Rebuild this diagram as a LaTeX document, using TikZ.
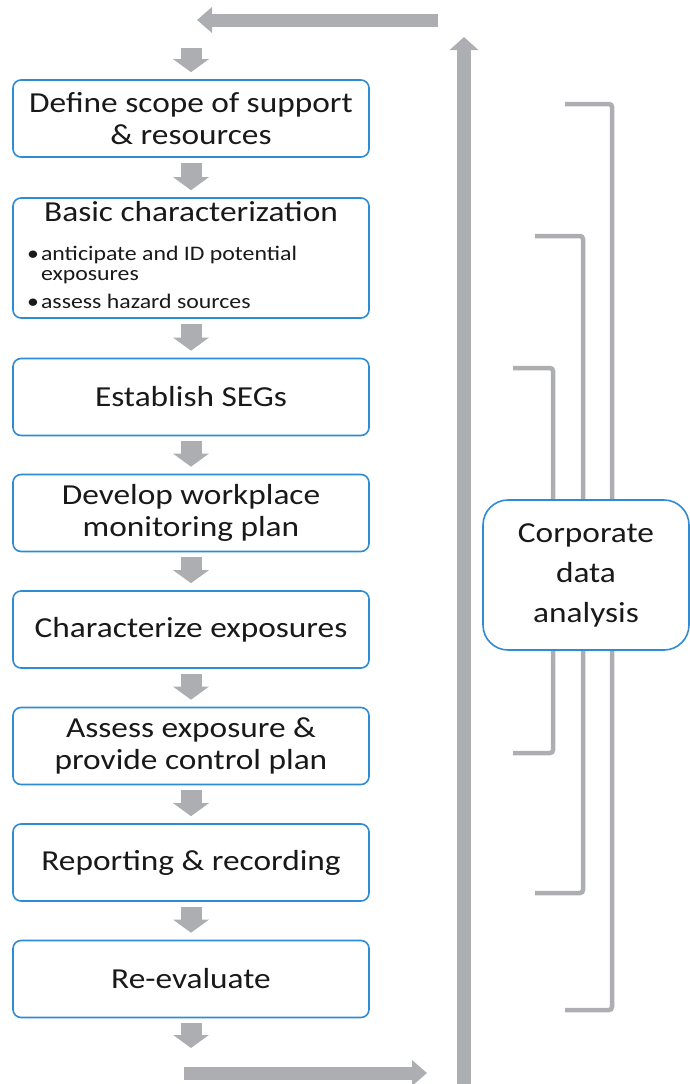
\documentclass[tikz,border=0pt]{standalone}
\usepackage{fontspec}
\setmainfont{Carlito}[FakeStretch=1.15]
\usetikzlibrary{arrows.meta}
\definecolor{stepblue}{RGB}{46,139,212}
\definecolor{flowgray}{RGB}{173,174,177}
\begin{document}
\begin{tikzpicture}[x=1pt,y=-1pt,
    stage/.style={draw=stepblue,line width=1.6pt,rounded corners=8pt,fill=white,minimum width=356pt,minimum height=77pt,inner sep=0pt,align=center,text=black!90,font=\fontsize{29}{32}\selectfont},
    down/.style={draw=flowgray,line width=21pt,-{Triangle[width=35pt,length=13pt]},shorten <=5pt,shorten >=7pt},
    loop/.style={draw=flowgray,line width=13pt,-{Triangle[width=25pt,length=15pt]}},
    bracket/.style={draw=flowgray,line width=4.5pt,rounded corners=3pt}]
  \useasboundingbox (0,0) rectangle (689,1084);
  % process steps
  \node[stage] (box1) at (191,118.5) {Define scope of support\\\& resources};
  \node[stage,minimum height=120pt] (box2) at (191,258) {};
  \node[anchor=base,inner sep=0pt,text=black!90,font=\fontsize{29}{32}\selectfont] (box2title) at (191,221) {Basic characterization};
  \node[anchor=base west,inner sep=0pt,text=black!90,font=\fontsize{20.7}{20}\selectfont] (box2list) at (27,260)
    {\begin{tabular}[t]{@{}l@{\hspace{2pt}}l@{}}\textbullet&anticipate and ID potential\\&exposures\\[8pt]\textbullet&assess hazard sources\end{tabular}};
  \node[stage] (box3) at (191,397) {Establish SEGs};
  \node[stage] (box4) at (191,513) {Develop workplace\\monitoring plan};
  \node[stage] (box5) at (191,629.5) {Characterize exposures};
  \node[stage] (box6) at (191,746) {Assess exposure \&\\provide control plan};
  \node[stage] (box7) at (191,862.5) {Reporting \& recording};
  \node[stage] (box8) at (191,979) {Re-evaluate};
  \coordinate (entry) at (191,43);
  \coordinate (exit) at (191,1055);
  \draw[down] (entry) -- (box1);
  \foreach \a/\b in {box1/box2,box2/box3,box3/box4,box4/box5,box5/box6,box6/box7,box7/box8}
    \draw[down] (\a) -- (\b);
  \draw[down] (box8) -- (exit);
  % feedback loop
  \coordinate (loopA) at (184,1073);
  \coordinate (loopB) at (427,1073);
  \coordinate (loopC) at (464,1084);
  \coordinate (loopD) at (464,37);
  \coordinate (loopE) at (438,20);
  \coordinate (loopF) at (197,20);
  \draw[loop] (loopA) -- (loopB);
  \draw[loop,line width=14pt,-{Triangle[width=28pt,length=13pt]}] (loopC) -- (loopD);
  \draw[loop] (loopE) -- (loopF);
  % brackets
  \draw[bracket] (565,104) -- (612,104) -- (612,1010) -- (565,1010);
  \draw[bracket] (535,236) -- (583,236) -- (583,893) -- (535,893);
  \draw[bracket] (513,368) -- (553,368) -- (553,753) -- (513,753);
  \node[stage,rounded corners=25pt,minimum width=206pt,minimum height=150pt,font=\fontsize{29}{40}\selectfont] (corp) at (586,575) {Corporate\\data\\analysis};
\end{tikzpicture}
\end{document}
